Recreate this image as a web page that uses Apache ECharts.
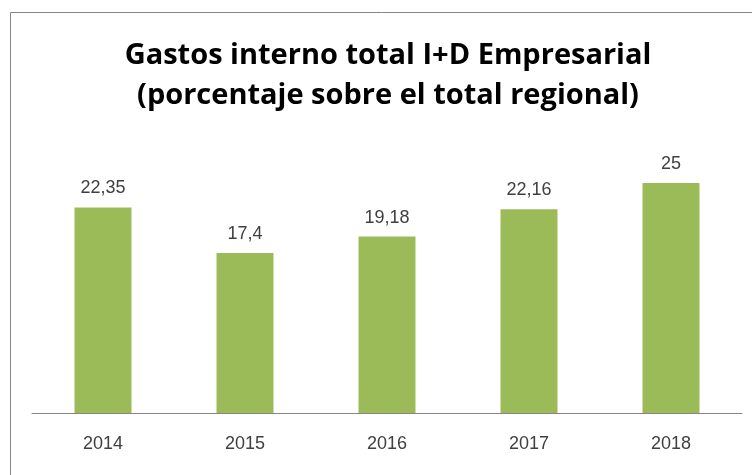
<!DOCTYPE html>
<html lang="es">
<head>
    <meta charset="UTF-8">
    <title>Gastos interno total I+D Empresarial</title>
    <style>
        * { margin: 0; padding: 0; box-sizing: border-box; }
        body { background: #fff; }
        #chart { width: 752px; height: 475px; }
    </style>
</head>
<body>
    <div id="chart"></div>
    <script src="https://cdn.jsdelivr.net/npm/echarts@6/dist/echarts.min.js"></script>
    <script>
        const years = ['2014', '2015', '2016', '2017', '2018'];
        const values = [22.35, 17.4, 19.18, 22.16, 25];

        const chart = echarts.init(document.getElementById('chart'));

        chart.setOption({
            animation: false,
            title: {
                text: 'Gastos interno total I+D Empresarial\n(porcentaje sobre el total regional)',
                left: 383,
                top: 31,
                textAlign: 'center',
                textStyle: {
                    fontFamily: 'Open Sans',
                    fontWeight: 'bold',
                    fontSize: 29,
                    lineHeight: 40,
                    color: '#000'
                }
            },
            graphic: [{
                type: 'rect',
                shape: { x: 10.5, y: 12.5, width: 760, height: 480 },
                style: { fill: 'none', stroke: '#868686', lineWidth: 1 }
            }],
            grid: { left: 32, right: 10, top: 137, bottom: 62 },
            xAxis: {
                type: 'category',
                data: years,
                axisLine: { lineStyle: { color: '#868686' } },
                axisTick: { show: false },
                axisLabel: { fontFamily: 'Liberation Sans', fontSize: 18, color: '#404040', margin: 22 }
            },
            yAxis: {
                type: 'value',
                min: 0,
                max: 30,
                show: false
            },
            series: [{
                type: 'bar',
                data: values,
                barWidth: 57,
                itemStyle: { color: '#9BBB59' },
                label: {
                    show: true,
                    position: 'top',
                    distance: 10,
                    fontFamily: 'Liberation Sans',
                    fontSize: 18,
                    color: '#404040',
                    formatter: p => String(p.value).replace('.', ',')
                }
            }]
        });
    </script>
</body>
</html>
